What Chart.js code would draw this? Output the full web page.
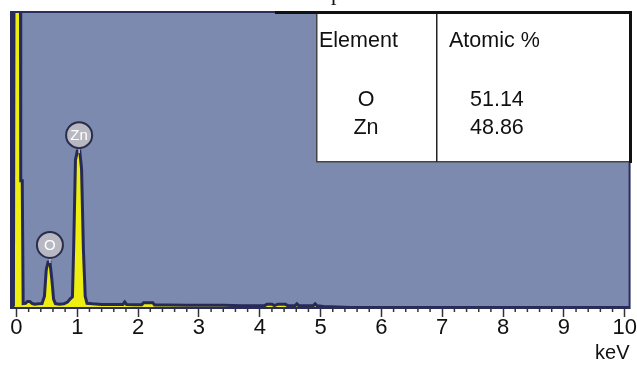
<!DOCTYPE html>
<html>
<head>
<meta charset="utf-8">
<script src="https://cdn.jsdelivr.net/npm/chart.js@4"></script>
<style>
  html, body { margin: 0; padding: 0; background: #fff; }
  canvas { display: block; }
</style>
</head>
<body>
<canvas id="eds" width="637" height="365"></canvas>
<script>
// spectrum (keV, counts on a 0-100 scale)
const energyKeV = [-0.09, -0.05, -0.035, 0.06, 0.07, 0.095, 0.11, 0.15, 0.18, 0.22, 0.26, 0.3, 0.36, 0.42,
  0.46, 0.49, 0.52, 0.55, 0.58, 0.61, 0.64, 0.7, 0.78, 0.84, 0.88, 0.92, 0.94, 0.97, 1.0, 1.04, 1.07, 1.1,
  1.13, 1.16, 1.25, 1.4, 1.6, 1.75, 1.78, 1.81, 1.95, 2.06, 2.09, 2.24, 2.27, 2.5, 2.8, 3.1, 3.4, 3.7, 4.0,
  4.08, 4.12, 4.2, 4.24, 4.3, 4.42, 4.46, 4.58, 4.61, 4.64, 4.88, 4.91, 4.94, 5.05, 5.5, 6, 7, 8, 9, 10, 10.08];
const counts = [1, 1, 170, 170, 43, 43, 1.5, 1.6, 2.2, 2.2, 1.5, 1.3, 1.4, 1.5,
  4, 13, 15.5, 15.5, 10, 3, 1.5, 1.3, 1.4, 2, 3, 3.8, 20, 50, 53, 53, 47, 20,
  4, 1.6, 1.4, 1.2, 1.2, 1.2, 2, 1.2, 1.1, 1.1, 1.8, 1.8, 1.0, 1.0, 0.9, 0.9, 0.9, 0.8, 0.8,
  0.8, 1.3, 1.3, 0.8, 1.3, 1.3, 0.8, 0.8, 1.4, 0.8, 0.8, 1.4, 0.8, 0.5, 0.2, 0.2, 0.2, 0.2, 0.2, 0.2, 0.2];

const tickValues = [0, 1, 2, 3, 4, 5, 6, 7, 8, 9, 10];

const peakNames = ['O', 'Zn'];
const peakLabelEnergy = [0.55, 1.03];
const peakLabelCounts = [21.3, 58.4];

const tableHeaders = ['Element', 'Atomic %'];
const tableElements = ['O', 'Zn'];
const atomicPercent = ['51.14', '48.86'];

const FONT = '"Liberation Sans", Arial, sans-serif';
const NAVY = '#2a2d5c';

const points = energyKeV.map((e, i) => ({ x: e, y: counts[i] }));

const edsDecor = {
  id: 'edsDecor',
  beforeDatasetsDraw(chart) {
    const { ctx, chartArea: a } = chart;
    ctx.save();
    ctx.fillStyle = '#7b8aae';
    ctx.fillRect(a.left, a.top, a.right - a.left, a.bottom - a.top);
    ctx.restore();
  },
  afterDatasetsDraw(chart) {
    const { ctx, chartArea: a } = chart;
    const xs = chart.scales.x;
    const ys = chart.scales.y;
    ctx.save();

    // frame
    ctx.strokeStyle = NAVY;
    ctx.lineWidth = 2;
    ctx.strokeRect(a.left, a.top, a.right - a.left, a.bottom - a.top);
    ctx.fillStyle = NAVY;
    ctx.fillRect(a.left - 1, a.top, 4, a.bottom - a.top);

    // minor ticks every 0.2 keV
    ctx.strokeStyle = '#333';
    ctx.lineWidth = 1.5;
    for (let i = 0; i <= 50; i++) {
      if (i % 5 === 0) continue;
      const px = xs.getPixelForValue(i / 5);
      ctx.beginPath();
      ctx.moveTo(px, a.bottom);
      ctx.lineTo(px, a.bottom + 4);
      ctx.stroke();
    }

    // table box
    ctx.fillStyle = '#ffffff';
    ctx.fillRect(317, 14, 312, 148);
    ctx.fillStyle = '#111';
    ctx.fillRect(275, 11, 357, 3);
    ctx.fillRect(629, 11, 3, 152);
    ctx.fillStyle = '#444';
    ctx.fillRect(316, 14, 1.5, 148);
    ctx.fillRect(316, 161, 313, 1.5);
    ctx.fillStyle = '#222';
    ctx.fillRect(436, 14, 1.5, 148);

    ctx.fillStyle = '#111';
    ctx.font = '21.5px ' + FONT;
    ctx.textBaseline = 'middle';
    ctx.textAlign = 'left';
    ctx.fillText(tableHeaders[0], 319, 41);
    ctx.fillText(tableHeaders[1], 449, 41);
    tableElements.forEach((el, i) => {
      const y = 100 + i * 28;
      ctx.textAlign = 'center';
      ctx.fillText(el, 366, y);
      ctx.textAlign = 'left';
      ctx.fillText(atomicPercent[i], 470, y);
    });

    // peak markers
    peakNames.forEach((name, i) => {
      const cx = xs.getPixelForValue(peakLabelEnergy[i]);
      const cy = ys.getPixelForValue(peakLabelCounts[i]);
      ctx.strokeStyle = '#c8c9d0';
      ctx.lineWidth = 1.5;
      ctx.beginPath();
      ctx.moveTo(cx, cy + 12);
      ctx.lineTo(cx, cy + 18);
      ctx.stroke();
      ctx.beginPath();
      ctx.arc(cx, cy, 13, 0, Math.PI * 2);
      ctx.fillStyle = '#b7b8c2';
      ctx.fill();
      ctx.strokeStyle = '#2b2c4c';
      ctx.lineWidth = 2;
      ctx.stroke();
      ctx.fillStyle = '#ffffff';
      ctx.font = '15px ' + FONT;
      ctx.textAlign = 'center';
      ctx.textBaseline = 'middle';
      ctx.fillText(name, cx, cy + 1);
    });

    // cut-off caption glyph at the very top
    ctx.fillStyle = '#111';
    ctx.font = '22px "Liberation Serif", serif';
    ctx.textAlign = 'left';
    ctx.textBaseline = 'alphabetic';
    ctx.fillText('p', 331, 0);

    ctx.restore();
  }
};

new Chart(document.getElementById('eds'), {
  type: 'line',
  data: {
    datasets: [{
      data: points,
      borderColor: '#272a57',
      borderWidth: 3,
      backgroundColor: '#eeee10',
      fill: 'origin',
      pointRadius: 0,
      tension: 0,
      clip: { left: 0, top: 0, right: 0, bottom: 3 }
    }]
  },
  options: {
    responsive: false,
    animation: false,
    layout: { padding: { left: 11, right: 7, top: 12, bottom: 0 } },
    plugins: { legend: { display: false }, tooltip: { enabled: false } },
    scales: {
      x: {
        type: 'linear',
        min: -0.09,
        max: 10.08,
        afterBuildTicks: axis => { axis.ticks = tickValues.map(v => ({ value: v })); },
        ticks: {
          color: '#111',
          font: { family: FONT, size: 22, lineHeight: 1 },
          padding: 0,
          maxRotation: 0,
          autoSkip: false
        },
        grid: { drawOnChartArea: false, drawTicks: true, tickLength: 9, tickColor: '#333', tickWidth: 1.5 },
        border: { display: false },
        title: {
          display: true,
          text: 'keV',
          align: 'end',
          color: '#111',
          font: { family: FONT, size: 20, lineHeight: 1 },
          padding: { top: 4, bottom: 2 }
        }
      },
      y: { display: false, min: 0, max: 100 }
    }
  },
  plugins: [edsDecor]
});
</script>
</body>
</html>
